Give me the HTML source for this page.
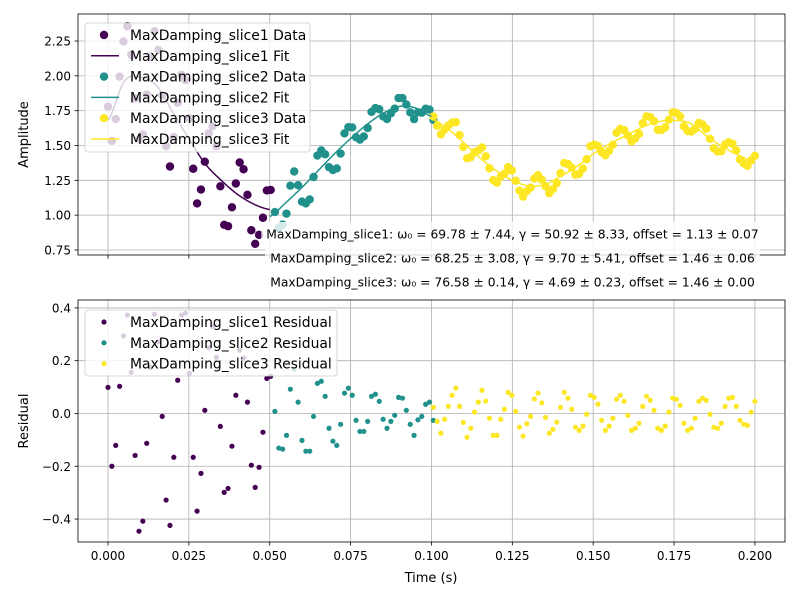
<!DOCTYPE html>
<html><head><meta charset="utf-8"><style>
html,body{margin:0;padding:0;background:#fff;}
svg{display:block;font-family:"DejaVu Sans","Liberation Sans",sans-serif;}
</style></head><body>
<svg id="chart" width="800" height="600" viewBox="0 0 800 600" xmlns="http://www.w3.org/2000/svg">
<rect width="800" height="600" fill="#fff"/>
<g id="topPanel"></g>
<g id="botPanel"></g>
<g id="ann"></g>
</svg>
<script>
const xTicks = [0, 0.025, 0.05, 0.075, 0.1, 0.125, 0.15, 0.175, 0.2];
const xTickLabels = ["0.000","0.025","0.050","0.075","0.100","0.125","0.150","0.175","0.200"];
const topYTicks = [0.75,1.0,1.25,1.5,1.75,2.0,2.25];
const topYTickLabels = ["0.75","1.00","1.25","1.50","1.75","2.00","2.25"];
const botYTicks = [-0.4,-0.2,0,0.2,0.4];
const botYTickLabels = ["\u22120.4","\u22120.2","0.0","0.2","0.4"];
const sliceNames = ["MaxDamping_slice1","MaxDamping_slice2","MaxDamping_slice3"];
const sliceColors = ["#440154","#21918c","#fde725"];
const sliceTStart = [0.0, 0.0516, 0.1006];
const sliceTEnd = [0.0503, 0.1006, 0.2];
const fitT1 = [0,0.005,0.01,0.015,0.02,0.025,0.03,0.035,0.04,0.045,0.05];
const fitV1 = [1.68,1.96,1.99,1.93,1.74,1.55,1.37,1.25,1.15,1.08,1.04];
const fitT2 = [0.05,0.055,0.06,0.065,0.07,0.075,0.08,0.085,0.09,0.095,0.1];
const fitV2 = [0.99,1.09,1.20,1.32,1.44,1.55,1.65,1.73,1.78,1.77,1.71];
const fitT3 = [0.1,0.105,0.11,0.115,0.12,0.125,0.13,0.135,0.14,0.145,0.15,0.155,0.16,0.165,0.17,0.175,0.18,0.185,0.19,0.195,0.2];
const fitV3 = [1.69,1.62,1.52,1.41,1.32,1.25,1.21,1.22,1.28,1.35,1.44,1.51,1.57,1.63,1.67,1.68,1.66,1.57,1.49,1.43,1.38];
const resid1 = [0.099,-0.200,-0.121,0.103,0.294,0.373,0.156,-0.159,-0.446,-0.408,-0.113,0.174,0.376,0.272,-0.011,-0.328,-0.424,-0.166,0.126,0.373,0.380,0.152,-0.166,-0.370,-0.227,0.012,0.249,0.330,0.213,-0.049,-0.299,-0.284,-0.124,0.069,0.240,0.210,0.043,-0.196,-0.280,-0.204,-0.071,0.133,0.141];
const resid2 = [0.008,-0.131,-0.135,-0.083,0.092,0.168,0.043,-0.102,-0.143,-0.143,-0.011,0.114,0.122,0.065,-0.056,-0.105,-0.121,-0.041,0.077,0.096,0.069,-0.026,-0.068,-0.068,-0.030,0.065,0.073,0.046,-0.022,-0.056,-0.030,-0.007,0.061,0.058,0.012,-0.041,-0.083,-0.024,-0.011,0.035,0.043,-0.026];
const resid3 = [0.023,-0.030,-0.075,-0.022,0.027,0.069,0.096,0.027,-0.034,-0.090,-0.056,0.005,0.043,0.088,0.047,-0.018,-0.083,-0.083,-0.022,0.016,0.080,0.069,0.008,-0.052,-0.086,-0.039,-0.011,0.055,0.077,0.040,-0.015,-0.075,-0.060,-0.033,0.023,0.080,0.058,0.016,-0.052,-0.064,-0.048,-0.003,0.069,0.061,0.035,-0.026,-0.064,-0.048,-0.018,0.054,0.069,0.046,-0.007,-0.064,-0.056,-0.037,0.027,0.065,0.050,0.012,-0.056,-0.064,-0.048,0.005,0.058,0.054,0.031,-0.037,-0.064,-0.056,-0.018,0.046,0.058,0.050,-0.003,-0.052,-0.056,-0.037,0.027,0.058,0.061,0.027,-0.026,-0.041,-0.045,0.005,0.046];
const annotations = [
 "MaxDamping_slice1: \u03C9\u2080 = 69.78 \u00B1 7.44, \u03B3 = 50.92 \u00B1 8.33, offset = 1.13 \u00B1 0.07",
 "MaxDamping_slice2: \u03C9\u2080 = 68.25 \u00B1 3.08, \u03B3 = 9.70 \u00B1 5.41, offset = 1.46 \u00B1 0.06",
 "MaxDamping_slice3: \u03C9\u2080 = 76.58 \u00B1 0.14, \u03B3 = 4.69 \u00B1 0.23, offset = 1.46 \u00B1 0.00"];

const NS="http://www.w3.org/2000/svg";
function mk(tag, attrs, parent){const e=document.createElementNS(NS,tag);for(const k in attrs)e.setAttribute(k,attrs[k]);if(parent)parent.appendChild(e);return e;}
const X0=78,X1=785, xMin=-0.00927, xMax=0.2093;
const sx=t=>X0+(t-xMin)/(xMax-xMin)*(X1-X0);
const T0=14,T1=255, tyMin=0.714, tyMax=2.444;
const syT=v=>T1-(v-tyMin)/(tyMax-tyMin)*(T1-T0);
const B0=300,B1=542, byMin=-0.487, byMax=0.430;
const syB=v=>B1-(v-byMin)/(byMax-byMin)*(B1-B0);

function cr(ts,vs,t){
  let n=ts.length; if(t<=ts[0])return vs[0]; if(t>=ts[n-1])return vs[n-1];
  let i=0; while(i<n-2 && t>ts[i+1]) i++;
  const u=(t-ts[i])/(ts[i+1]-ts[i]);
  const p0=vs[Math.max(i-1,0)],p1=vs[i],p2=vs[i+1],p3=vs[Math.min(i+2,n-1)];
  return 0.5*((2*p1)+(-p0+p2)*u+(2*p0-5*p1+4*p2-p3)*u*u+(-p0+3*p1-3*p2+p3)*u*u*u);
}
const fitsT=[fitT1,fitT2,fitT3], fitsV=[fitV1,fitV2,fitV3], resids=[resid1,resid2,resid3];

function axes(g, y0, y1, ticks, labels, sy, showXLabels, ylabel){
  mk('rect',{x:X0,y:y0,width:X1-X0,height:y1-y0,fill:'#fff'},g);
  const grid=mk('g',{stroke:'#b0b0b0','stroke-width':0.8},g);
  
  
  xTicks.forEach((t,i)=>{const x=sx(t);
    mk('line',{x1:x,x2:x,y1:y0,y2:y1},grid);
    mk('line',{x1:x,x2:x,y1:y1,y2:y1+3.5,stroke:'#000','stroke-width':0.8},g);
    if(showXLabels){const tx=mk('text',{x:x,y:y1+18,'font-size':'12px','text-anchor':'middle',fill:'#000'},g);tx.textContent=xTickLabels[i];
      
      }
  });
  ticks.forEach((v,i)=>{const y=sy(v);
    mk('line',{x1:X0,x2:X1,y1:y,y2:y},grid);
    mk('line',{x1:X0-3.5,x2:X0,y1:y,y2:y,stroke:'#000','stroke-width':0.8},g);
    const tx=mk('text',{x:X0-7,y:y+4.5,'font-size':'12px','text-anchor':'end',fill:'#000'},g);tx.textContent=labels[i];
    
    
  });
  const yl=mk('text',{x:0,y:0,'font-size':'13px','text-anchor':'middle',transform:`translate(28,${(y0+y1)/2}) rotate(-90)`},g);yl.textContent=ylabel;
  
  
}
const topG=document.getElementById('topPanel'), botG=document.getElementById('botPanel');
axes(topG,T0,T1,topYTicks,topYTickLabels,syT,false,'Amplitude');
axes(botG,B0,B1,botYTicks,botYTickLabels,syB,true,'Residual');

for(let s=0;s<3;s++){
  const r=resids[s], n=r.length;
  const tg=mk('g',{},topG);
  
  
  const bg=mk('g',{},botG);
  
  
  for(let i=0;i<n;i++){
    const t=sliceTStart[s]+(sliceTEnd[s]-sliceTStart[s])*i/(n-1);
    const v=cr(fitsT[s],fitsV[s],t)+r[i];
    const c=mk('circle',{cx:sx(t),cy:syT(v),r:4.2,fill:sliceColors[s]},tg);
    
    
    const c2=mk('circle',{cx:sx(t),cy:syB(r[i]),r:2.6,fill:sliceColors[s]},bg);
    
    
  }
}
for(let s=0;s<3;s++){
  const ts=fitsT[s]; let d='';
  for(let k=0;k<=100;k++){const t=ts[0]+(ts[ts.length-1]-ts[0])*k/100;d+=(k?'L':'M')+sx(t).toFixed(2)+','+syT(cr(ts,fitsV[s],t)).toFixed(2);}
  const p=mk('path',{d:d,fill:'none',stroke:sliceColors[s],'stroke-width':1.5},topG);
  
  
}
[topG,botG].forEach((g,j)=>{const y0=j?B0:T0,y1=j?B1:T1;
  const sp=mk('rect',{x:X0,y:y0,width:X1-X0,height:y1-y0,fill:'none',stroke:'#000','stroke-width':0.8},g);
  
  });

function legend(g,x,y,w,h,entries){
  const lg=mk('g',{},g);
  
  
  mk('rect',{x:x,y:y,width:w,height:h,rx:3,fill:'#fff','fill-opacity':0.8,stroke:'#cccccc','stroke-width':0.8},lg);
  entries.forEach((e,i)=>{const cy=y+12+i*20.8;
    const eg=mk('g',{},lg);
    
    
    if(e.type==='line') mk('line',{x1:x+6,x2:x+34,y1:cy,y2:cy,stroke:e.color,'stroke-width':1.5},eg);
    else mk('circle',{cx:x+19,cy:cy,r:e.r,fill:e.color},eg);
    const tx=mk('text',{x:x+45,y:cy+5,'font-size':'13.9px',fill:'#000'},eg);tx.textContent=e.label;});
}
const topEntries=[];
for(let s=0;s<3;s++){topEntries.push({type:'dot',r:4.2,color:sliceColors[s],label:sliceNames[s]+' Data'});topEntries.push({type:'line',color:sliceColors[s],label:sliceNames[s]+' Fit'});}
legend(topG,85,23,225,129,topEntries);
legend(botG,85,310,252,66,sliceNames.map((n,s)=>({type:'dot',r:2.6,color:sliceColors[s],label:n+' Residual'})));

const xl=mk('text',{x:431,y:582,'font-size':'13px','text-anchor':'middle'},botG);xl.textContent='Time (s)';



const ann=document.getElementById('ann');
annotations.forEach((a,i)=>{const cy=234+i*24;
  const g=mk('g',{},ann);
  
  
  const tx=mk('text',{x:512.5,y:cy+4.5,'font-size':'12.3px','text-anchor':'middle',fill:'#000'},g);tx.textContent=a;
  let bw=490;
  try{bw=tx.getBBox().width;}catch(e){}
  const r=mk('rect',{x:512.5-bw/2-5,y:cy-12,width:bw+10,height:24,fill:'#fff','fill-opacity':0.8},null);
  g.insertBefore(r,tx);
});
</script>
</body></html>
